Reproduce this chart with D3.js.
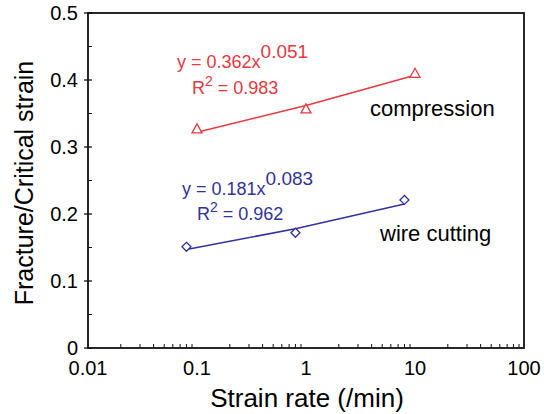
<!DOCTYPE html>
<html>
<head>
<meta charset="utf-8">
<script src="https://cdn.jsdelivr.net/npm/d3@7"></script>
<style>
  body { margin: 0; background: #fff; }
  text { font-family: "Liberation Sans", Arial, sans-serif; }
</style>
</head>
<body>
<script>
'use strict';

// measured points
let compX = [0.1, 1, 10];
let compY = [0.327, 0.357, 0.41];
let wireX = [0.08, 0.8, 8];
let wireY = [0.151, 0.172, 0.221];

// power-law fit lines
let compFitX = [0.1, 1, 10];
let compFitY = [0.322, 0.362, 0.407];
let wireFitX = [0.08, 0.8, 8];
let wireFitY = [0.147, 0.178, 0.215];

let xTicks = [0.01, 0.1, 1, 10, 100];
let xTickLabels = ["0.01", "0.1", "1", "10", "100"];
let yTicks = [0, 0.1, 0.2, 0.3, 0.4, 0.5];
let yTickLabels = ["0", "0.1", "0.2", "0.3", "0.4", "0.5"];

(function() {
  let red = "#e6383e";
  let blue = "#32329c";

  let svg = d3.select("body").append("svg")
    .attr("width", 544)
    .attr("height", 414);

  let pLeft = 88, pRight = 524, pTop = 13, pBottom = 348;

  let x = d3.scaleLog().domain([0.01, 100]).range([pLeft, pRight]);
  let y = d3.scaleLinear().domain([0, 0.5]).range([pBottom, pTop]);

  // frame
  svg.append("rect")
    .attr("x", pLeft).attr("y", pTop)
    .attr("width", pRight - pLeft).attr("height", pBottom - pTop)
    .attr("fill", "none").attr("stroke", "#111").attr("stroke-width", 1.8);

  // x minor ticks (inward)
  let minor = [];
  for (let d = 0.01; d < 99; d *= 10) {
    for (let k = 2; k <= 9; k++) minor.push(d * k);
  }
  svg.append("g").selectAll("line")
    .data(minor).enter().append("line")
    .attr("x1", d => x(d)).attr("x2", d => x(d))
    .attr("y1", pBottom).attr("y2", pBottom - 4)
    .attr("stroke", "#111");

  // y minor ticks (inward)
  let yMinor = [0.05, 0.15, 0.25, 0.35, 0.45];
  svg.append("g").selectAll("line")
    .data(yMinor).enter().append("line")
    .attr("x1", pLeft).attr("x2", pLeft + 4)
    .attr("y1", d => y(d)).attr("y2", d => y(d))
    .attr("stroke", "#111");

  // y major ticks (crossing)
  svg.append("g").selectAll("line")
    .data(yTicks).enter().append("line")
    .attr("x1", pLeft - 4).attr("x2", pLeft + 4)
    .attr("y1", d => y(d)).attr("y2", d => y(d))
    .attr("stroke", "#111").attr("stroke-width", 1.3);

  // tick labels
  svg.append("g").selectAll("text")
    .data(xTicks).enter().append("text")
    .attr("x", d => x(d))
    .attr("y", pBottom + 27)
    .attr("text-anchor", "middle")
    .style("font-size", "20px")
    .text((d, i) => xTickLabels[i]);

  svg.append("g").selectAll("text")
    .data(yTicks).enter().append("text")
    .attr("x", pLeft - 10)
    .attr("y", d => y(d) + 7)
    .attr("text-anchor", "end")
    .style("font-size", "20px")
    .text((d, i) => yTickLabels[i]);

  // axis titles
  svg.append("text")
    .attr("x", 307).attr("y", 407)
    .attr("text-anchor", "middle")
    .style("font-size", "26px")
    .text("Strain rate (/min)");

  svg.append("text")
    .attr("transform", "translate(33, 183) rotate(-90)")
    .attr("text-anchor", "middle")
    .style("font-size", "25px")
    .text("Fracture/Critical strain");

  let line = d3.line().x(d => x(d[0])).y(d => y(d[1]));

  // fit lines
  svg.append("path")
    .datum(d3.zip(compFitX, compFitY))
    .attr("d", line)
    .attr("fill", "none").attr("stroke", red).attr("stroke-width", 1.5);

  svg.append("path")
    .datum(d3.zip(wireFitX, wireFitY))
    .attr("d", line)
    .attr("fill", "none").attr("stroke", blue).attr("stroke-width", 1.5);

  // markers
  svg.append("g").selectAll("path")
    .data(d3.zip(compX, compY)).enter().append("path")
    .attr("transform", d => "translate(" + x(d[0]) + "," + y(d[1]) + ")")
    .attr("d", "M0,-5L5,4L-5,4Z")
    .attr("fill", "#fff").attr("stroke", red).attr("stroke-width", 1.3);

  svg.append("g").selectAll("path")
    .data(d3.zip(wireX, wireY)).enter().append("path")
    .attr("transform", d => "translate(" + x(d[0]) + "," + y(d[1]) + ")")
    .attr("d", "M0,-4.5L4.5,0L0,4.5L-4.5,0Z")
    .attr("fill", "#fff").attr("stroke", blue).attr("stroke-width", 1.3);

  // equations
  function equation(px, py, coef, expo, rx, ry, r2, color) {
    let t = svg.append("text")
      .attr("x", px).attr("y", py)
      .style("font-size", "18px")
      .attr("fill", color);
    t.append("tspan").text("y = " + coef + "x");
    t.append("tspan").attr("dy", -10).style("font-size", "19px").text(expo);

    let r = svg.append("text")
      .attr("x", rx).attr("y", ry)
      .style("font-size", "18px")
      .attr("fill", color);
    r.append("tspan").text("R");
    r.append("tspan").attr("dy", -8).style("font-size", "14px").text("2");
    r.append("tspan").attr("dy", 8).text(" = " + r2);
  }

  equation(177, 68, "0.362", "0.051", 192, 94, "0.983", red);
  equation(182, 195, "0.181", "0.083", 197, 220, "0.962", blue);

  svg.append("text")
    .attr("x", 370).attr("y", 116)
    .style("font-size", "22px")
    .text("compression");

  svg.append("text")
    .attr("x", 380).attr("y", 241)
    .style("font-size", "22px")
    .text("wire cutting");
})();
</script>
</body>
</html>
